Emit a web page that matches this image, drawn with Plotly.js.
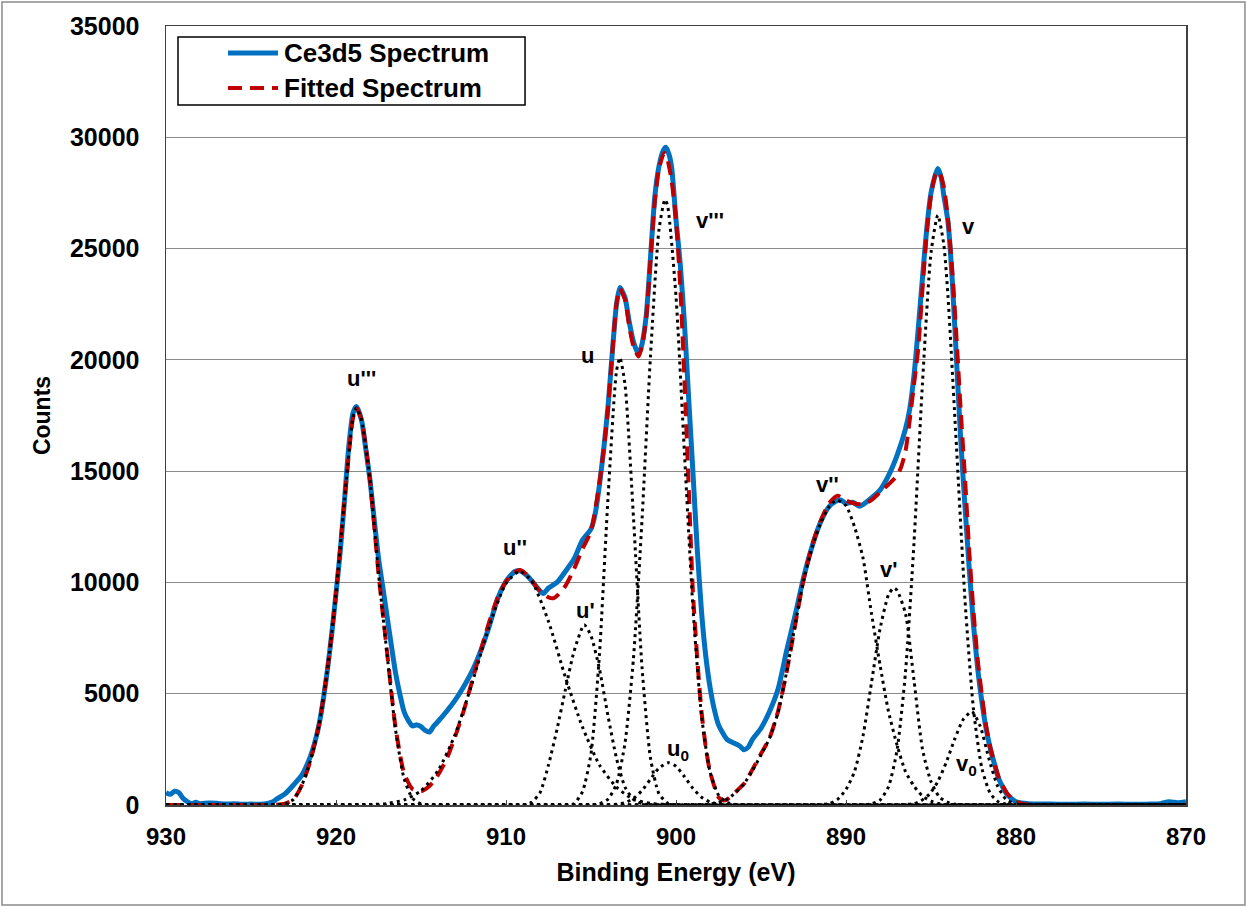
<!DOCTYPE html>
<html>
<head>
<meta charset="utf-8">
<script src="https://cdn.plot.ly/plotly-3.0.1.min.js"></script>
<style>html,body{margin:0;padding:0;background:#fff;}#chart{width:1247px;height:907px;}</style>
</head>
<body>
<div id="chart"></div>
<script>
// ---- Measured Ce3d5 spectrum ----
const measuredE = [930,929.75,929.5,929.25,929,928.75,928.5,928.25,928,927.5,927,926.5,926,925.5,925,924.5,924,923.75,923.5,923,922.5,922,921.5,921.25,921,920.75,920.5,920.25,920,919.75,919.5,919.25,919,918.8,918.5,918.25,918,917.75,917.5,917.25,917,916.75,916.5,916.25,916,915.75,915.5,915.25,915,914.75,914.5,914.25,914,913.5,913,912.5,912,911.5,911,910.5,910,909.5,909.2,909,908.6,908.2,907.8,907.5,907,906.5,906,905.5,905,904.75,904.5,904.25,904,903.75,903.5,903.3,903,902.75,902.5,902.2,902,901.75,901.5,901.25,901,900.75,900.6,900.4,900.25,900,899.75,899.5,899.25,899,898.75,898.5,898.25,898,897.75,897.5,897,896.5,896.25,896,895.75,895.5,895,894.5,894,893.5,893,892.5,892,891.5,891,890.6,890.3,890,889.6,889.2,889,888.5,888,887.5,887,886.5,886.25,886,885.75,885.5,885.25,885,884.75,884.6,884.4,884.25,884,883.75,883.5,883.25,883,882.75,882.5,882.25,882,881.75,881.5,881.25,881,880.5,880,879.5,879,878,877,876,875,874,873,872,871.5,871,870.5,870];
const measuredCounts = [550,480,620,560,300,150,60,120,60,90,80,40,60,30,40,30,70,130,260,500,900,1350,2200,2800,3600,4720,6100,7700,9500,11400,13700,16100,17600,17900,17300,16000,14600,12800,11100,9800,8500,7200,5950,5000,4200,3800,3550,3600,3520,3350,3280,3550,3750,4200,4700,5300,6000,6900,8000,9250,10050,10480,10520,10450,10180,9800,9500,9750,10000,10500,11050,11900,12400,13100,14400,16000,17900,20300,22500,23250,22800,21700,20800,20250,20700,22000,24600,27300,28700,29400,29550,29200,28600,26300,24300,21600,18200,14900,11500,8700,6700,5300,4300,3600,2950,2750,2650,2480,2600,2950,3450,4200,5200,6900,8500,10200,11600,12700,13400,13650,13700,13550,13600,13420,13500,13800,14150,14800,15700,16900,17800,19300,21400,23700,25900,27500,28300,28600,28200,27400,26200,23600,20000,16400,13400,10600,8100,6100,4600,3400,2500,1800,1150,450,150,80,50,40,30,40,30,40,30,40,60,150,100,150];

// ---- Fitted spectrum ----
const fittedE = [930,924,923.5,923,922.5,922,921.5,921,920.5,920,919.5,919,918.8,918.5,918,917.5,917,916.5,916,915.5,915,914.5,914,913.5,913,912.5,912,911.5,911,910.5,910,909.5,909.2,909,908.5,908,907.5,907.2,907,906.5,906,905.5,905,904.5,904.25,904,903.75,903.5,903.3,903,902.75,902.5,902.2,902,901.75,901.5,901.25,901,900.7,900.5,900.25,900,899.75,899.5,899.25,899,898.75,898.5,898.25,898,897.5,897.2,897,896.5,896,895.5,895,894.5,894,893.5,893,892.5,892,891.5,891,890.5,890,889.5,889,888.5,888,887.5,887,886.75,886.5,886.25,886,885.75,885.5,885.25,885,884.75,884.55,884.25,884,883.75,883.5,883.25,883,882.75,882.5,882.25,882,881.75,881.5,881,880.5,880,879.5,879,870];
const fittedCounts = [0,0,10,60,250,900,2000,3600,6100,9500,13700,17400,17850,17300,14600,10400,6900,3500,1450,720,620,850,1350,2050,3050,4200,5550,6900,8200,9300,10050,10450,10560,10500,10100,9600,9330,9290,9400,9850,10600,11500,12300,14500,16000,17800,20300,22500,23200,22700,21500,20600,20150,20600,21900,24500,27100,28600,29300,29000,28000,26300,23300,19100,14200,9500,6600,4200,2600,1500,350,200,250,580,950,1600,2300,3000,4200,5950,8050,10100,11650,12750,13550,13900,13680,13550,13520,13700,14050,14400,14800,15200,15900,17300,18900,20500,23200,25700,27400,28300,28470,27800,26300,24000,21000,17700,14700,11400,8700,6500,4900,3500,2550,1200,500,150,40,0,0];

// ---- Fitted component peaks ----
const uTripleE = [930,925,924,923,922.5,922,921.5,921,920.5,920,919.5,919,918.8,918.5,918,917.5,917,916.5,916,915.5,915,914.5,914,913,870];
const uTriple  = [0,0,0,50,250,900,2000,3600,6100,9500,13700,17400,17850,17300,14600,10400,6800,3400,1200,300,50,0,0,0,0];

const uDoubleE = [930,920,918,917,916,915,914,913,912,911,910,909.2,908.5,907.5,906.5,905.5,904.5,903.5,902.5,901.5,900.5,899.5,870];
const uDouble  = [0,0,17,66,224,640,1540,3150,5460,8010,9960,10500,10080,8250,5720,3500,1800,800,250,75,20,0,0];

const uPrimeE = [930,910,909,908.5,908,907.5,907,906.5,906,905.4,905,904.5,904,903.5,903,902.5,902,901.5,900.5,870];
const uPrime  = [0,0,0,120,550,1800,3400,5200,6900,8100,7600,6100,4000,2100,800,250,60,0,0,0];

const uE = [930,908,906.5,906,905.5,905,904.5,904,903.5,903.3,903,902.5,902,901.5,901,900.5,900,899,870];
const u  = [0,0,0,60,600,2300,6800,13800,19500,20100,18900,12900,6200,2100,500,90,0,0,0];

const vTripleE = [930,906,905,904.5,904,903.5,903,902.5,902,901.5,901,900.65,900.5,900,899.5,899,898.5,898,897.5,897,896.5,896,895,870];
const vTriple  = [0,0,0,60,260,950,2780,6610,12800,20180,25860,27200,26950,22850,15750,8830,4020,1500,450,110,20,0,0,0];

const u0E = [930,905,904,903.5,903,902.5,902,901.5,901,900.45,900,899.5,899,898.5,898,897.5,897,896,870];
const u0  = [0,0,7,30,105,295,650,1160,1660,1900,1740,1270,745,350,130,40,10,0,0];

const vDoubleE = [930,900,898,897.5,897,896.5,896,895.5,895,894.5,894,893.5,893,892.5,892,891.5,891,890.55,890,889.5,889,888.5,888,887.5,887,886.5,886,885.5,885,884.5,884,883,870];
const vDouble  = [0,0,40,120,250,560,950,1550,2250,3000,4150,5950,8050,10050,11550,12650,13400,13700,13450,12500,11100,8600,6300,4200,2700,1500,850,400,170,60,10,0,0];

const vPrimeE = [930,892,891,890.5,890,889.5,889,888.5,888,887.5,887.2,887,886.5,886,885.5,885,884.5,884,883.5,882.5,870];
const vPrime  = [0,0,60,250,700,1500,3100,5500,7900,9450,9750,9650,8600,5600,2500,1050,350,120,20,0,0];

const vE = [930,890,889,888.5,888,887.5,887,886.5,886,885.5,885,884.6,884.25,884,883.5,883,882.5,882,881.5,881,880.5,880,870];
const v  = [0,0,9,50,220,820,2450,5970,11790,18970,24810,26500,25200,22840,16080,9200,4290,1620,500,125,25,0,0];

const v0E = [930,887,886.6,886,885.6,885.1,884.6,884.1,883.6,883.1,882.6,882.1,881.6,881.1,880.6,880.1,879.6,879,870];
const v0  = [0,0,15,60,185,480,1050,1920,2970,3850,4200,3530,2100,885,260,55,10,0,0];

const seriesNames = ['Ce3d5 Spectrum', 'Fitted Spectrum'];
const xTickVals = [930, 920, 910, 900, 890, 880, 870];
const yTickVals = [0, 5000, 10000, 15000, 20000, 25000, 30000, 35000];

const components = [
  [uTripleE, uTriple], [uDoubleE, uDouble], [uPrimeE, uPrime], [uE, u],
  [vTripleE, vTriple], [u0E, u0], [vDoubleE, vDouble], [vPrimeE, vPrime],
  [vE, v], [v0E, v0]
];

const FONT = 'Liberation Sans, Arial, sans-serif';
const BLUE = '#0070C0', RED = '#C00000';

const traces = [
  {x: measuredE, y: measuredCounts, name: seriesNames[0], type: 'scatter', mode: 'lines', showlegend: false,
   line: {color: BLUE, width: 5, shape: 'spline', smoothing: 0.6}},
  {x: fittedE, y: fittedCounts, name: seriesNames[1], type: 'scatter', mode: 'lines', showlegend: false,
   line: {color: RED, width: 4, dash: '14px,8px', shape: 'spline', smoothing: 0.6}}
];
components.forEach(function (c) {
  traces.push({x: c[0], y: c[1], type: 'scatter', mode: 'lines', showlegend: false, hoverinfo: 'skip',
    line: {color: '#000000', width: 3, dash: '3px,4px', shape: 'spline', smoothing: 0.6}});
});

const labelFont = {family: FONT, size: 22, color: '#000', weight: 'bold'};
function lab(x, y, t) { return {x: x, y: y, xref: 'x', yref: 'y', text: t, showarrow: false, font: labelFont}; }

// legend (drawn as a boxed key in the top-left corner of the plot area)
const legFont = {family: FONT, size: 26, color: '#000', weight: 'bold'};
const legRows = [0.9653, 0.9204];
const legendAnn = seriesNames.map(function (n, i) {
  return {xref: 'paper', yref: 'paper', x: 0.1137, y: legRows[i], xanchor: 'left', yanchor: 'middle',
    text: n, showarrow: false, font: legFont};
});
const legendShapes = [
  {type: 'rect', xref: 'paper', yref: 'paper', x0: 0.01176, x1: 0.352, y0: 0.8986, y1: 0.9859,
    line: {color: '#000', width: 1.5}, fillcolor: '#ffffff', layer: 'above'},
  {type: 'line', xref: 'paper', yref: 'paper', x0: 0.0608, x1: 0.1098, y0: legRows[0], y1: legRows[0],
    line: {color: BLUE, width: 5}},
  {type: 'line', xref: 'paper', yref: 'paper', x0: 0.0608, x1: 0.1098, y0: legRows[1], y1: legRows[1],
    line: {color: RED, width: 4, dash: '14px,8px'}}
];

const layout = {
  width: 1247, height: 907,
  margin: {l: 166, r: 61, t: 26, b: 102},
  paper_bgcolor: '#ffffff', plot_bgcolor: '#ffffff',
  showlegend: false,
  xaxis: {range: [930, 870], tickvals: xTickVals, ticktext: xTickVals.map(String),
    showgrid: false, zeroline: false, showline: true, linecolor: '#404040', linewidth: 1.5, mirror: true,
    ticks: 'inside', ticklen: 5, tickcolor: '#404040', ticklabelstandoff: 10,
    tickfont: {family: FONT, size: 24, color: '#000', weight: 'bold'},
    title: {text: 'Binding Energy (eV)', font: {family: FONT, size: 25, color: '#000', weight: 'bold'}, standoff: 14}},
  yaxis: {range: [0, 35000], tickvals: yTickVals, ticktext: yTickVals.map(String),
    showgrid: true, gridcolor: '#8c8c8c', gridwidth: 1, zeroline: false,
    showline: true, linecolor: '#404040', linewidth: 1.5, mirror: true,
    ticks: '', ticklabelstandoff: 20,
    tickfont: {family: FONT, size: 25, color: '#000', weight: 'bold'},
    title: {text: 'Counts', font: {family: FONT, size: 23, color: '#000', weight: 'bold'}, standoff: 13}},
  annotations: [
    lab(918.5, 19180, "u'''"), lab(909.5, 11550, "u''"), lab(905.35, 8760, "u'"),
    lab(905.2, 20200, 'u'), lab(898.0, 26280, "v'''"), lab(899.9, 2470, 'u<sub>0</sub>'),
    lab(891.1, 14420, "v''"), lab(887.5, 10560, "v'"), lab(882.8, 26000, 'v'),
    lab(882.9, 1800, 'v<sub>0</sub>')
  ].concat(legendAnn),
  shapes: [{type: 'rect', xref: 'paper', yref: 'paper', x0: -0.1608, x1: 1.0578, y0: -0.1284, y1: 1.0308,
    line: {color: '#8c8c8c', width: 1.5}, fillcolor: 'rgba(0,0,0,0)', layer: 'below'}].concat(legendShapes)
};

Plotly.newPlot('chart', traces, layout, {displayModeBar: false, staticPlot: true});
</script>
</body>
</html>
